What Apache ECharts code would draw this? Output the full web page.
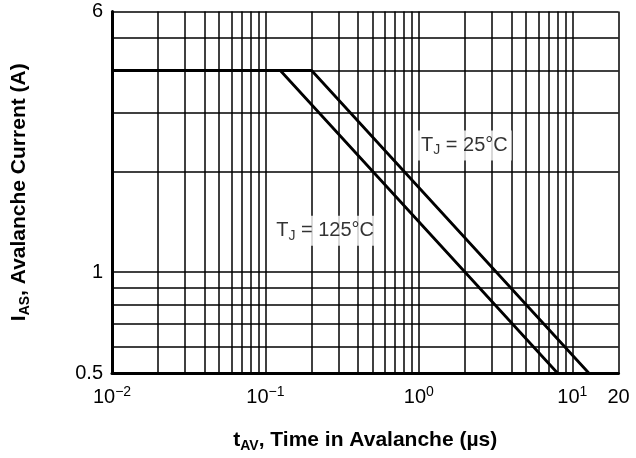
<!DOCTYPE html>
<html>
<head>
<meta charset="utf-8">
<script src="https://cdn.jsdelivr.net/npm/echarts@6/dist/echarts.min.js"></script>
<style>
  html, body { margin: 0; padding: 0; background: #fff; }
  #chart { width: 636px; height: 458px; }
</style>
</head>
<body>
<div id="chart"></div>
<script>
// tick values (log axes)
const xLabelTicks = [0.01, 0.1, 1, 10, 20];
const xGridTicks = [0.01, 0.02, 0.03, 0.04, 0.05, 0.06, 0.07, 0.08, 0.09,
  0.1, 0.2, 0.3, 0.4, 0.5, 0.6, 0.7, 0.8, 0.9,
  1, 2, 3, 4, 5, 6, 7, 8, 9, 10, 20];
const yLabelTicks = [0.5, 1, 6];
const yGridTicks = [0.5, 0.6, 0.7, 0.8, 0.9, 1, 2, 3, 4, 5, 6];

// avalanche current vs time, [t (us), I (A)]
const tj25 = [[0.01, 4], [0.2, 4], [12.8, 0.5]];
const tj125 = [[0.01, 4], [0.125, 4], [8, 0.5]];

// curve captions, anchored in data units
const curveNotes = [
  { temp: '25°C', at: [1.98, 2.39] },
  { temp: '125°C', at: [0.245, 1.33] }
];

const FONT = 'Liberation Sans, Arial, sans-serif';

function expLabel(v) {
  if (v === 20) return '{n|20}';
  const e = Math.round(Math.log10(v));
  return '{n|10}{sup|' + (e < 0 ? '\u2212' + (-e) : e) + '}';
}

const nameRich = {
  b: { fontFamily: FONT, fontSize: 21, fontWeight: 'bold', color: '#000', lineHeight: 25 },
  s: { fontFamily: FONT, fontSize: 14, fontWeight: 'bold', color: '#000', verticalAlign: 'bottom', lineHeight: 18 }
};

const chart = echarts.init(document.getElementById('chart'));
chart.setOption({
  animation: false,
  backgroundColor: '#fff',
  grid: { left: 112, right: 17.5, top: 11.5, bottom: 85, outerBoundsMode: 'none' },
  xAxis: {
    type: 'log',
    logBase: 10,
    min: 0.01,
    max: 20,
    name: '{b|t}{s|AV}{b|, Time in Avalanche (\u00b5s)}',
    nameLocation: 'middle',
    nameGap: 55,
    nameMoveOverlap: false,
    nameTextStyle: { rich: nameRich },
    axisLine: { show: true, lineStyle: { color: '#000', width: 3 } },
    axisTick: { show: false, customValues: xGridTicks },
    axisLabel: {
      customValues: xLabelTicks,
      margin: 12,
      formatter: expLabel,
      rich: {
        n: { fontFamily: FONT, fontSize: 20, color: '#000', lineHeight: 24 },
        sup: { fontFamily: FONT, fontSize: 14, color: '#000', verticalAlign: 'top', lineHeight: 14 }
      }
    },
    splitLine: { show: true, lineStyle: { color: '#000', width: 1.5 } }
  },
  yAxis: {
    type: 'log',
    logBase: 10,
    min: 0.5,
    max: 6,
    name: '{b|I}{s|AS}{b|, Avalanche Current (A)}',
    nameLocation: 'middle',
    nameRotate: 90,
    nameGap: 80,
    nameMoveOverlap: false,
    nameTextStyle: { rich: nameRich },
    axisLine: { show: true, lineStyle: { color: '#000', width: 3 } },
    axisTick: { show: false, customValues: yGridTicks },
    axisLabel: {
      customValues: yLabelTicks,
      margin: 9,
      fontFamily: FONT,
      fontSize: 20,
      color: '#000'
    },
    splitLine: { show: true, lineStyle: { color: '#000', width: 1.5 } }
  },
  series: [
    {
      name: 'TJ = 25°C',
      type: 'line',
      data: tj25,
      symbol: 'none',
      lineStyle: { color: '#000', width: 2.8 }
    },
    {
      name: 'TJ = 125°C',
      type: 'line',
      data: tj125,
      symbol: 'none',
      lineStyle: { color: '#000', width: 2.8 }
    },
    {
      type: 'scatter',
      data: curveNotes.map(n => ({ value: n.at, temp: n.temp })),
      symbolSize: 0,
      silent: true,
      label: {
        show: true,
        position: 'inside',
        backgroundColor: '#fff',
        padding: [3, 4, 3, 4],
        formatter: p => '{t|T}{j|J}{t| = ' + p.data.temp + '}',
        rich: {
          t: { fontFamily: FONT, fontSize: 20, color: '#000', lineHeight: 24 },
          j: { fontFamily: FONT, fontSize: 14, color: '#000', verticalAlign: 'bottom', lineHeight: 18 }
        }
      }
    }
  ]
});
</script>
</body>
</html>
